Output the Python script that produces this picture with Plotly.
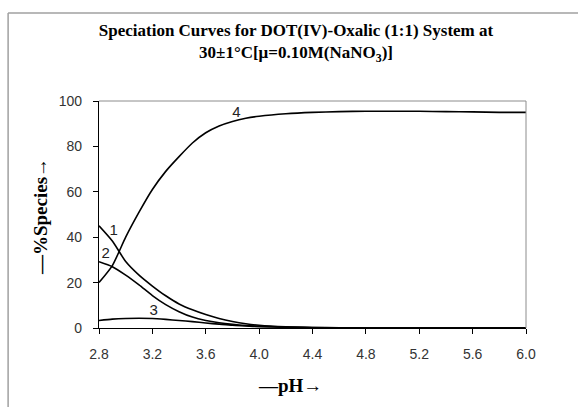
import plotly.graph_objects as go

ph = [2.8, 2.9, 3.0, 3.1, 3.2, 3.3, 3.4, 3.5, 3.6, 3.7, 3.8, 3.9, 4.0, 4.2, 4.4, 4.6, 4.8, 5.0, 5.2, 5.4, 5.6, 5.8, 6.0]
curve1 = [45, 38.3, 29.3, 23.3, 18.5, 14.2, 10.6, 8.0, 5.9, 4.2, 2.9, 1.9, 1.2, 0.5, 0.2, 0.1, 0, 0, 0, 0, 0, 0, 0]
curve2 = [29.2, 27.0, 23.3, 19.0, 14.3, 10.3, 7.2, 4.8, 3.3, 2.3, 1.6, 1.1, 0.8, 0.4, 0.2, 0.1, 0, 0, 0, 0, 0, 0, 0]
curve3 = [3.3, 3.9, 4.2, 4.3, 4.2, 3.8, 3.3, 2.8, 2.2, 1.7, 1.2, 0.9, 0.6, 0.3, 0.1, 0.05, 0, 0, 0, 0, 0, 0, 0]
curve4 = [20, 27.5, 40, 51, 61, 69, 75.5, 81.5, 86, 89, 91, 92.4, 93.3, 94.4, 95.0, 95.3, 95.5, 95.5, 95.5, 95.3, 95.2, 95.0, 95.0]

labels = ["1", "2", "3", "4"]
label_x = [2.91, 2.85, 3.21, 3.83]
label_y = [42.7, 32.6, 7.2, 94.5]

xticks = [2.8, 3.2, 3.6, 4.0, 4.4, 4.8, 5.2, 5.6, 6.0]
yticks = [0, 20, 40, 60, 80, 100]

fig = go.Figure()
for c in [curve1, curve2, curve3, curve4]:
    fig.add_trace(go.Scatter(x=ph, y=c, mode="lines", line=dict(color="black", width=1.6, shape="spline", smoothing=0.6),
                             showlegend=False, hoverinfo="skip"))

fig.add_trace(go.Scatter(x=label_x, y=label_y, mode="text", text=labels,
                         textfont=dict(family="Liberation Sans", size=15, color="#222"),
                         showlegend=False, hoverinfo="skip"))

PW, PH = 427.5, 227.0

fig.update_layout(
    width=578, height=407,
    margin=dict(l=99, r=51.5, t=101, b=79),
    paper_bgcolor="white", plot_bgcolor="white",
    title=dict(text="<b>Speciation Curves for DOT(IV)-Oxalic (1:1) System at<br>30±1°C[μ=0.10M(NaNO<sub>3</sub>)]</b>",
               x=296/578, xanchor="center", y=1 - 36/407, yanchor="middle",
               font=dict(family="Liberation Serif", size=17, color="black")),
    xaxis=dict(range=[2.8, 6.0], tickvals=xticks, ticktext=["%.1f" % v for v in xticks],
               showgrid=False, zeroline=False, showline=True, linecolor="black", linewidth=1.3,
               ticks="outside", ticklen=5, tickcolor="black", ticklabelstandoff=8,
               tickfont=dict(family="Liberation Sans", size=14, color="#333")),
    yaxis=dict(range=[0, 100], tickvals=yticks,
               showgrid=False, zeroline=False, showline=True, linecolor="black", linewidth=1.3,
               ticks="outside", ticklen=5, tickcolor="black", ticklabelstandoff=8,
               tickfont=dict(family="Liberation Sans", size=14, color="#333")),
    annotations=[
        dict(text="<b>—pH→</b>", xref="paper", yref="paper", x=(290 - 99) / PW, y=(328 - 385) / PH,
             xanchor="center", yanchor="middle", showarrow=False,
             font=dict(family="Liberation Serif", size=19, color="black")),
        dict(text="<b>—%Species→</b>", xref="paper", yref="paper", x=(40 - 99) / PW, y=(328 - 217) / PH,
             xanchor="center", yanchor="middle", showarrow=False, textangle=-90,
             font=dict(family="Liberation Serif", size=19, color="black")),
    ],
    shapes=[
        dict(type="line", xref="paper", yref="paper", x0=0, x1=1, y0=1, y1=1, line=dict(color="#8c8c8c", width=1)),
        dict(type="line", xref="paper", yref="paper", x0=1, x1=1, y0=0, y1=1, line=dict(color="#8c8c8c", width=1)),
        dict(type="line", xref="paper", yref="paper", x0=(8 - 99) / PW, x1=2, y0=(328 - 13) / PH, y1=(328 - 13) / PH,
             line=dict(color="#a0a0a0", width=1.5)),
        dict(type="line", xref="paper", yref="paper", x0=(8 - 99) / PW, x1=(8 - 99) / PW, y0=-1, y1=(328 - 13) / PH,
             line=dict(color="#a0a0a0", width=1.5)),
    ],
)

fig.write_html("out.html")
